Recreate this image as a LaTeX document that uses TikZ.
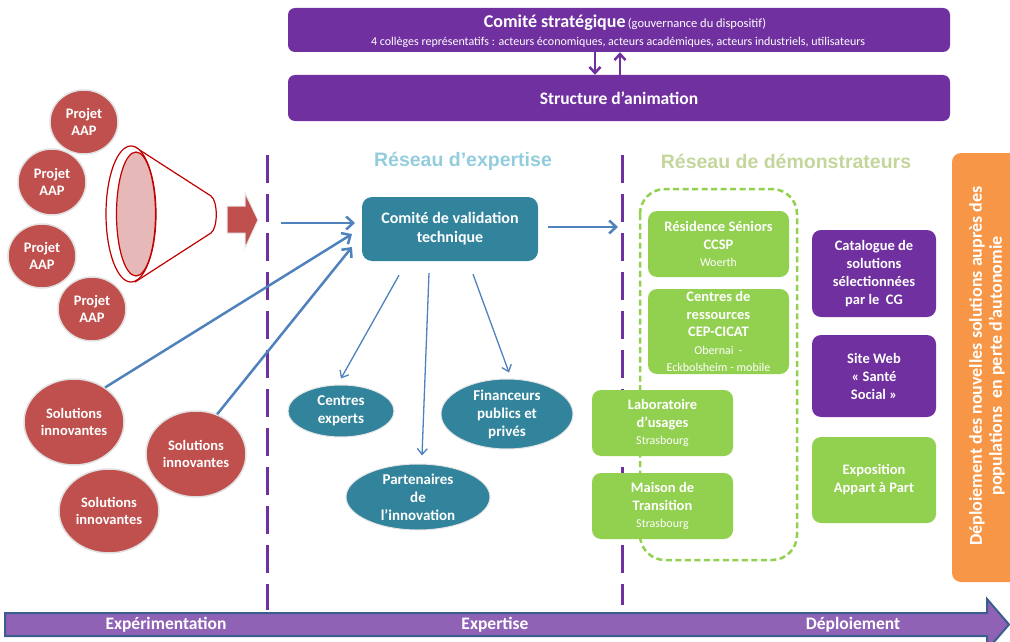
\documentclass[tikz,border=0pt]{standalone}
\usepackage{fontspec}
\setmainfont{Carlito}
\newfontfamily\arialf{Liberation Sans}
\usetikzlibrary{arrows.meta,shapes.geometric}
\definecolor{purpleC}{HTML}{7030A0}
\definecolor{redC}{HTML}{C0504D}
\definecolor{darkredC}{HTML}{C00000}
\definecolor{pinkC}{HTML}{E6B9B8}
\definecolor{tealC}{HTML}{31849B}
\definecolor{greenC}{HTML}{92D050}
\definecolor{orangeC}{HTML}{F79646}
\definecolor{blueC}{HTML}{4F81BD}
\definecolor{barC}{HTML}{8F62B5}
\definecolor{barEdge}{HTML}{3A5E8E}
\definecolor{expC}{HTML}{93CDDD}
\definecolor{demoC}{HTML}{C3D69B}
\newcommand\fsz[2]{\fontsize{#1}{#2}\selectfont}
\newcommand\smalltxt[1]{{\fsz{12}{14}\mdseries #1}}
\begin{document}
\begin{tikzpicture}[x=1pt,y=-1pt,
  every node/.style={inner sep=0pt, align=center, text=white},
  pbox/.style={fill=purpleC, rounded corners=7pt},
  rcirc/.style={ellipse, fill=redC, draw=black!12, line width=1.5pt, font=\fsz{14.5}{17}\bfseries},
  tell/.style={ellipse, fill=tealC, draw=black!10, line width=1pt, font=\fsz{15}{18}\bfseries},
  gbox/.style={fill=greenC, rounded corners=9pt, minimum width=141pt, font=\fsz{14.5}{17.5}\bfseries},
  vbox/.style={fill=purpleC, rounded corners=9pt, minimum width=124pt, font=\fsz{14.5}{18}\bfseries},
  vdash/.style={draw=purpleC, line width=3pt, dash pattern=on 28pt off 11pt},
  thickarrow/.style={draw=blueC, line width=2.5pt, -{Straight Barb[length=7pt,width=13pt]}},
  thinarrow/.style={draw=blueC, line width=1.3pt, -{Straight Barb[length=6pt,width=10pt]}},
  parrow/.style={draw=purpleC, line width=2.5pt, -{Straight Barb[length=6pt,width=11pt]}},
  header/.style={font=\arialf\fsz{19.5}{22}\bfseries},
  barlabel/.style={font=\fsz{17.5}{20}\bfseries}
]
\useasboundingbox (0,0) rectangle (1010,642);

% vertical dashed separators
\draw[vdash] (267,155) -- (267,610);
\draw[vdash] (622,155) -- (622,605);

% top boxes
\node[pbox, minimum width=662pt, minimum height=44pt] (strat) at (619,30) {};
\node[anchor=base] (strattitle) at (625,28) {{\fsz{18}{20}\bfseries Comité stratégique} {\fsz{12.5}{14}(gouvernance du dispositif)}};
\node[anchor=base, font=\fsz{12}{14}] (stratsub) at (618,46) {4 collèges représentatifs : acteurs économiques, acteurs académiques, acteurs industriels, utilisateurs};
\node[pbox, minimum width=662pt, minimum height=46pt] (anim) at (619,98) {};
\node[anchor=base, font=\fsz{17.5}{20}\bfseries] (animtxt) at (619,104) {Structure d’animation};
\draw[parrow] ([xshift=-24pt]strat.south) -- ([xshift=-24pt]anim.north);
\draw[parrow] ([xshift=1pt]anim.north) -- ([xshift=1pt]strat.south);

% Projet AAP circles
\node[rcirc, minimum width=68pt, minimum height=64pt] (p1) at (84,122) {Projet\\AAP};
\node[rcirc, minimum width=68pt, minimum height=66pt] (p2) at (52,182) {Projet\\AAP};
\node[rcirc, minimum width=68pt, minimum height=64pt] (p3) at (42,256) {Projet\\AAP};
\node[rcirc, minimum width=68pt, minimum height=64pt] (p4) at (92,309) {Projet\\AAP};

% funnel
\draw[darkredC, line width=1.2pt, fill=white] (135,147) -- (211,196) .. controls (218,201) and (218,228) .. (211,233) -- (135,282);
\draw[darkredC, line width=1.2pt, fill=white] (131,214) ellipse [x radius=25, y radius=68];
\draw[darkredC, line width=1.2pt, fill=pinkC] (136,214) ellipse [x radius=19.5, y radius=62];

% block arrow
\draw[fill=redC, draw=black!10, line width=1pt] (227,206) -- (245,206) -- (245,193) -- (258,220) -- (245,248) -- (245,233) -- (227,233) -- cycle;

% Solutions innovantes
\node[rcirc, minimum width=100pt, minimum height=86pt] (s1) at (74,422) {Solutions\\innovantes};
\node[rcirc, minimum width=100pt, minimum height=86pt] (s2) at (196,454) {Solutions\\innovantes};
\node[rcirc, minimum width=100pt, minimum height=84pt] (s3) at (109,511) {Solutions\\innovantes};

% headers
\node[header, text=expC] (hexp) at (463,161) {Réseau d’expertise};
\node[header, text=demoC] (hdemo) at (786,161) {Réseau de démonstrateurs};

% comite de validation
\node[fill=tealC, rounded corners=10pt, minimum width=176pt, minimum height=64pt, font=\fsz{16}{19}\bfseries] (cvt) at (450,229) {Comité de validation\\technique};

% expertise ellipses
\node[tell, minimum width=106pt, minimum height=52pt] (cex) at (341,411) {Centres\\experts};
\node[tell, minimum width=132pt, minimum height=70pt] (fin) at (507,414) {Financeurs\\publics et\\privés};
\node[tell, minimum width=144pt, minimum height=66pt] (par) at (418,497) {Partenaires\\de\\l’innovation};

% connectors
\coordinate (inStart) at (281,223);
\coordinate (inEnd) at (355,223);
\coordinate (s1End) at (352,234);
\coordinate (s2End) at (352,247);
\coordinate (outEnd) at (618,227);
\draw[thickarrow] (inStart) -- (inEnd);
\draw[thickarrow] (s1.48) -- (s1End);
\draw[thickarrow] (s2.62) -- (s2End);
\draw[thickarrow] ([xshift=10pt,yshift=2pt]cvt.east) -- (outEnd);
\draw[thinarrow] ([xshift=-51pt,yshift=-14pt]cvt.south) -- ([yshift=6pt]cex.north);
\draw[thinarrow] ([xshift=-21pt,yshift=-12pt]cvt.south) -- ([xshift=4pt,yshift=8pt]par.north);
\draw[thinarrow] ([xshift=23pt,yshift=-13pt]cvt.south) -- ([xshift=2pt,yshift=6pt]fin.north);

% demonstrator group
\draw[greenC, line width=2.5pt, dash pattern=on 6pt off 3.5pt, rounded corners=25pt] (640,189) rectangle (797,560);
\node[gbox, minimum height=66pt] (res) at (718.5,244) {Résidence Séniors\\CCSP\\\smalltxt{Woerth}};
\node[gbox, minimum height=85pt] (cres) at (718.5,331.5) {Centres de\\ressources\\CEP-CICAT\\\smalltxt{Obernai\ \ -}\\\smalltxt{Eckbolsheim - mobile}};
\node[gbox, minimum height=66pt] (labo) at (662.5,423) {Laboratoire\\d’usages\\\smalltxt{Strasbourg}};
\node[gbox, minimum height=66pt] (mais) at (662.5,506) {Maison de\\Transition\\\smalltxt{Strasbourg}};

% right column
\node[vbox, minimum height=87pt] (cat) at (874,273.5) {Catalogue de\\solutions\\sélectionnées\\par le\ \ CG};
\node[vbox, minimum height=82pt] (web) at (874,376) {Site Web\\« Santé\\Social »};
\node[vbox, fill=greenC, minimum height=86pt] (expo) at (874,480) {Exposition\\Appart à Part};

% orange deployment box
\node[fill=orangeC, rounded corners=9pt, rotate=90, minimum width=429pt, minimum height=80pt] (depl) at (992,367.5) {};
\node[rotate=90, font=\fsz{18}{20}\bfseries] (depltxt) at (987,366) {Déploiement des nouvelles solutions auprès des\\populations\ \ en perte d’autonomie};

% bottom timeline arrow
\draw[fill=barC, draw=barEdge, line width=2pt] (5,613) -- (987,613) -- (987,599) -- (1009,624.5) -- (987,650) -- (987,636) -- (5,636) -- cycle;
\node[barlabel] (tl1) at (166,624.5) {Expérimentation};
\node[barlabel] (tl2) at (495,624.5) {Expertise};
\node[barlabel] (tl3) at (853,624.5) {Déploiement};
\end{tikzpicture}
\end{document}
